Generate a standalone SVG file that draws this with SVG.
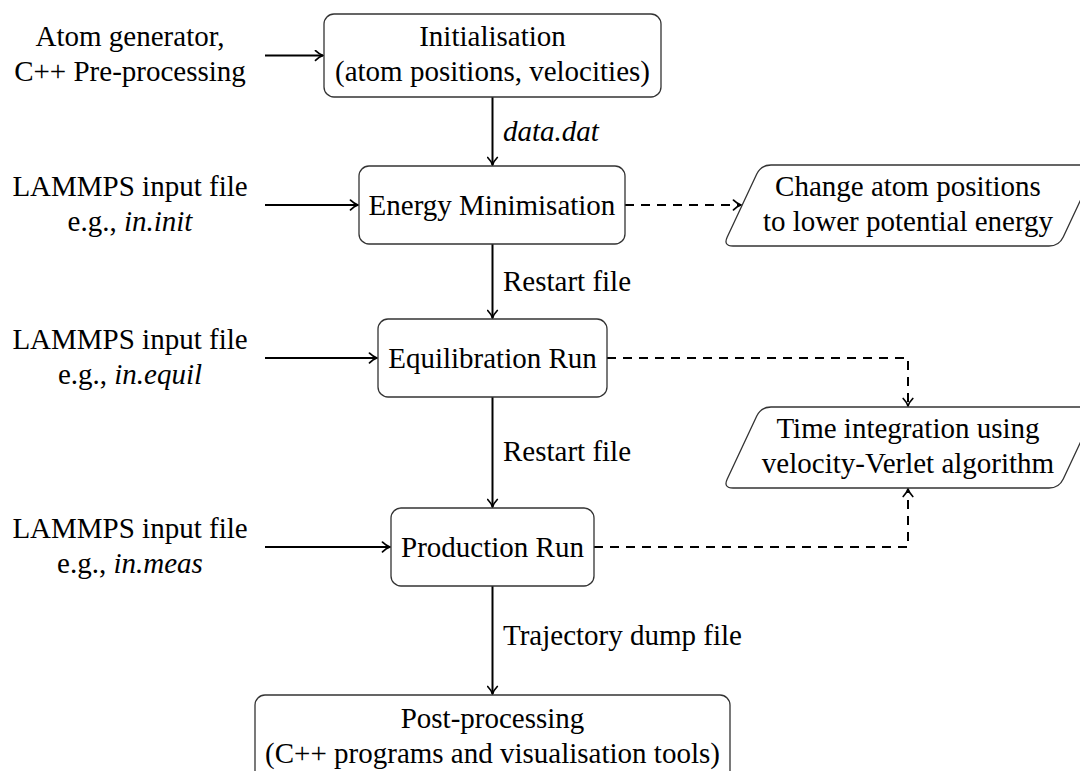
<svg xmlns="http://www.w3.org/2000/svg" width="1080" height="771" viewBox="0 0 1080 771">
<style>
text{font-family:'Liberation Serif','DejaVu Serif',serif;font-size:29px;fill:#000}
.c{text-anchor:middle}
.it{font-style:italic}
.box{fill:#fff;stroke:#333;stroke-width:1.3}
.con{fill:none;stroke:#000;stroke-width:2}
.dash{stroke-dasharray:9 7}
</style>
<defs>
<marker id="arr" viewBox="-9 -6 11 12" refX="0" refY="0" markerWidth="11" markerHeight="12" markerUnits="userSpaceOnUse" orient="auto">
<path d="M-7.5,-4.8 C-4.8,-2.2 -1.6,-0.5 0,0 C-1.6,0.5 -4.8,2.2 -7.5,4.8" fill="none" stroke="#000" stroke-width="1.7" stroke-linecap="round"/>
</marker>
</defs>
<rect width="1080" height="771" fill="#fff"/>

<g id="connectors">
<line class="con" x1="265" y1="55.5" x2="323" y2="55.5" marker-end="url(#arr)"/>
<line class="con" x1="265" y1="205" x2="358" y2="205" marker-end="url(#arr)"/>
<line class="con" x1="265" y1="358" x2="377" y2="358" marker-end="url(#arr)"/>
<line class="con" x1="265" y1="547" x2="390" y2="547" marker-end="url(#arr)"/>
<line class="con" x1="492.5" y1="97" x2="492.5" y2="165" marker-end="url(#arr)"/>
<line class="con" x1="492.5" y1="244" x2="492.5" y2="318" marker-end="url(#arr)"/>
<line class="con" x1="492.5" y1="397" x2="492.5" y2="507" marker-end="url(#arr)"/>
<line class="con" x1="492.5" y1="586" x2="492.5" y2="694" marker-end="url(#arr)"/>
<path class="con dash" d="M625,205 L741,205" marker-end="url(#arr)"/>
<path class="con dash" d="M607,358 L908,358 L908,406" marker-end="url(#arr)"/>
<path class="con dash" d="M594,547 L908,547 L908,489" marker-end="url(#arr)"/>
<text x="503" y="141" class="it" font-family="Liberation Serif, serif">data.dat</text>
<text x="503" y="291" font-family="Liberation Serif, serif">Restart file</text>
<text x="503" y="461" font-family="Liberation Serif, serif">Restart file</text>
<text x="503" y="645" font-family="Liberation Serif, serif">Trajectory dump file</text>
</g>

<g id="in-atomgen" font-family="Liberation Serif, serif">
<text x="130" y="46" class="c">Atom generator,</text>
<text x="130" y="81" class="c">C++ Pre-processing</text>
</g>
<g id="in-init">
<text x="130" y="196" class="c">LAMMPS input file</text>
<text x="130" y="231" class="c">e.g., <tspan class="it">in.init</tspan></text>
</g>
<g id="in-equil">
<text x="130" y="349" class="c">LAMMPS input file</text>
<text x="130" y="384" class="c">e.g., <tspan class="it">in.equil</tspan></text>
</g>
<g id="in-meas">
<text x="130" y="538" class="c">LAMMPS input file</text>
<text x="130" y="573" class="c">e.g., <tspan class="it">in.meas</tspan></text>
</g>

<g id="initialisation">
<rect class="box" x="324" y="14" width="337" height="83" rx="10"/>
<text x="492.5" y="46" class="c">Initialisation</text>
<text x="492.5" y="81" class="c">(atom positions, velocities)</text>
</g>
<g id="energy-min">
<rect class="box" x="359" y="166" width="266" height="78" rx="10"/>
<text x="492" y="215" class="c">Energy Minimisation</text>
</g>
<g id="equilibration">
<rect class="box" x="378" y="319" width="229" height="78" rx="10"/>
<text x="492.5" y="368" class="c">Equilibration Run</text>
</g>
<g id="production">
<rect class="box" x="391" y="508" width="203" height="78" rx="10"/>
<text x="492.5" y="557" class="c">Production Run</text>
</g>
<g id="postprocessing">
<rect class="box" x="255" y="695" width="475" height="110" rx="10"/>
<text x="492.5" y="728" class="c">Post-processing</text>
<text x="492.5" y="763" class="c">(C++ programs and visualisation tools)</text>
</g>
<g id="change-positions">
<path class="box" d="M771,165 L1087,165 Q1097,165 1092.75,174.05 L1063.25,236.95 Q1059,246 1049,246 L733,246 Q723,246 727.25,236.95 L756.75,174.05 Q761,165 771,165 Z"/>
<text x="908" y="196" class="c">Change atom positions</text>
<text x="908" y="231" class="c">to lower potential energy</text>
</g>
<g id="time-integration">
<path class="box" d="M771,407 L1087,407 Q1097,407 1092.75,416.05 L1063.25,478.95 Q1059,488 1049,488 L733,488 Q723,488 727.25,478.95 L756.75,416.05 Q761,407 771,407 Z"/>
<text x="908" y="438" class="c">Time integration using</text>
<text x="908" y="473" class="c">velocity-Verlet algorithm</text>
</g>
</svg>
